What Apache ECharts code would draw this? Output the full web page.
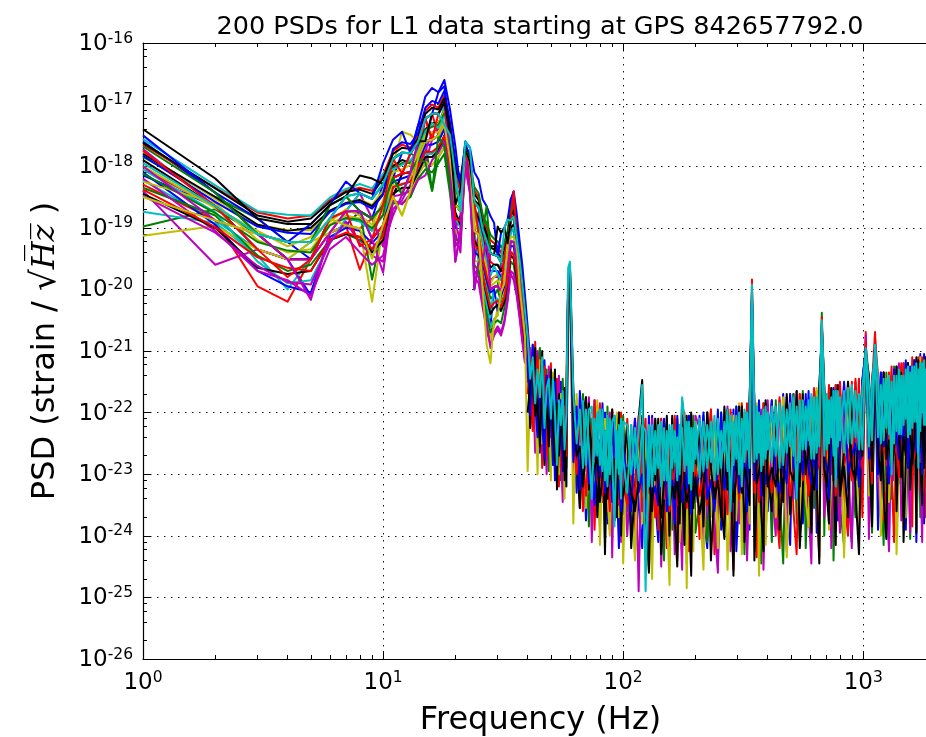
<!DOCTYPE html>
<html>
<head>
<meta charset="utf-8">
<title>200 PSDs for L1 data</title>
<script src="https://cdn.jsdelivr.net/npm/echarts@6.0.0/dist/echarts.min.js"></script>
<style>
html,body{margin:0;padding:0;background:#ffffff;}
#chart{width:926px;height:737px;}
</style>
</head>
<body>
<div id="chart"></div>
<script>
// ---------------- text ----------------
const titleText = '200 PSDs for L1 data starting at GPS 842657792.0';
const xAxisTitle = 'Frequency (Hz)';

// ---------------- axes (tick labels are 10^exponent) ----------------
const xMin = 1, xMax = 2048;
const xMajorExponents = [0, 1, 2, 3];
const yExponents = [-26, -25, -24, -23, -22, -21, -20, -19, -18, -17, -16];
const xMinorSubs = [2, 3, 4, 5, 6, 7, 8, 9];
const yMinorSubs = [2, 4, 6, 8];

// ---------------- frequencies (Hz) ----------------
const lowFreqs = [1,2,3,4,5,6,7,8,9,10,11,12,13,14,15,16,17,18,19,20,21,22,23,24,25,26,27,28,29,30,31,32,33,34,35,36,37,38,39];
const highFreqs = [40,41,42,43,44,45,46,47,48,49,50,51,52,53,54,55,56,57,58,59,60,
 62,64,66,68,70,72,74,76,78,80,82,84,86,88,90,92,94,96,98,100,
 104,108,112,116,120,124,128,132,136,140,144,148,152,156,160,164,168,172,176,180,184,188,192,196,200,
 208,216,224,232,240,248,256,264,272,280,288,296,304,312,320,328,336,344,352,360,368,376,384,392,400,
 416,432,448,464,480,496,512,528,544,560,576,592,608,624,640,656,672,688,704,720,736,752,768,784,800,
 832,864,896,928,960,992,1024,1056,1088,1120,1152,1184,1216,1248,1280,1312,1344,1376,1408,1440,1472,1504,1536,1568,1600,1632,1664,1696,1728,1760,1792,1824,1856];
const cyan2Freqs = highFreqs.slice(24); // 68 Hz upward

// ---------------- PSD values, log10(strain/sqrt(Hz)) ----------------
// PSDs drawn over 1-39 Hz only
const lowBlue2 = [-17.60,-18.43,-19.10,-19.23,-19.51,-18.85,-18.49,-18.73,-18.85,-18.29,
 -18.19,-17.78,-17.79,-17.33,-17.23,-17.15,-17.15,-16.96,-17.49,-18.15,
 -18.73,-17.73,-17.93,-19.05,-19.11,-20.01,-20.34,-20.60,-19.96,-19.94,
 -20.04,-19.90,-19.25,-18.88,-18.82,-19.53,-19.85,-20.25,-20.65];
const lowGreen2 = [-17.85,-18.50,-18.85,-19.23,-19.23,-18.63,-18.49,-18.44,-18.53,-18.29,
 -17.88,-17.78,-17.79,-17.87,-17.59,-17.57,-17.50,-17.33,-17.49,-18.15,
 -18.39,-17.73,-17.93,-18.58,-18.67,-19.03,-19.78,-20.00,-19.96,-19.94,
 -19.56,-19.45,-19.25,-18.54,-18.82,-19.15,-19.60,-20.00,-20.45];
const lowRed2 = [-18.05,-18.65,-19.35,-19.51,-19.51,-19.08,-18.96,-19.01,-18.85,-18.63,
 -18.19,-18.12,-18.10,-17.87,-17.23,-17.15,-17.50,-17.33,-17.89,-18.62,
 -18.73,-17.73,-18.15,-19.05,-19.11,-19.52,-19.78,-19.41,-19.44,-19.46,
 -19.56,-19.45,-19.64,-19.22,-19.23,-19.53,-19.95,-20.35,-20.80];
const lowCyan2 = [-18.23,-18.88,-19.35,-19.51,-19.23,-18.85,-18.73,-18.73,-18.85,-18.63,
 -18.19,-18.12,-18.10,-17.60,-17.23,-17.57,-17.50,-17.33,-17.89,-18.62,
 -18.73,-17.73,-17.93,-19.05,-19.56,-20.01,-20.34,-20.60,-20.48,-20.42,
 -20.04,-19.90,-19.64,-18.88,-18.82,-19.53,-19.90,-20.65,-21.00];
const lowMagenta2 = [-17.72,-18.65,-19.10,-19.51,-19.51,-18.85,-18.73,-18.44,-18.85,-19.30,
 -18.49,-18.12,-18.10,-17.87,-17.59,-17.15,-17.15,-16.96,-17.49,-19.08,
 -19.40,-17.73,-18.15,-19.53,-19.11,-19.52,-19.78,-19.41,-19.44,-19.46,
 -19.56,-19.45,-19.25,-18.88,-18.82,-19.53,-20.00,-20.40,-20.75];
const lowYellow2 = [-17.78,-18.53,-18.95,-19.04,-19.04,-18.73,-18.59,-18.54,-18.63,-18.39,
 -17.98,-17.44,-17.49,-17.60,-17.23,-17.15,-17.15,-16.96,-17.89,-18.15,
 -18.39,-17.73,-18.15,-19.05,-19.11,-19.52,-19.21,-19.41,-19.44,-19.46,
 -19.56,-19.45,-19.25,-18.88,-18.82,-19.15,-19.50,-19.90,-20.35];
const lowBlack2 = [-17.90,-18.65,-19.10,-19.51,-19.51,-18.85,-18.73,-18.73,-19.18,-18.96,
 -18.49,-18.12,-18.10,-17.87,-17.59,-17.57,-17.50,-17.33,-17.89,-18.62,
 -18.73,-17.73,-17.93,-18.45,-18.55,-18.90,-19.05,-19.30,-19.30,-19.35,
 -19.40,-19.30,-19.10,-18.88,-18.82,-19.15,-19.55,-20.30,-20.70];
const lowBlue3 = [-18.15,-18.65,-19.35,-19.51,-20.10,-19.08,-18.96,-18.73,-18.85,-18.63,
 -18.19,-18.12,-17.79,-17.60,-17.23,-17.15,-16.80,-16.70,-17.49,-18.62,
 -18.73,-17.73,-17.93,-20.00,-19.56,-19.52,-19.21,-19.41,-19.44,-19.46,
 -19.56,-19.45,-19.25,-18.88,-18.82,-19.53,-20.25,-20.65,-21.00];
const lowGreen3 = [-18.98,-18.70,-19.10,-19.23,-19.23,-18.85,-18.73,-18.73,-19.84,-18.96,
 -18.19,-18.46,-18.40,-18.13,-17.59,-18.40,-17.85,-17.69,-18.30,-18.62,
 -18.73,-17.73,-17.93,-19.05,-19.11,-19.52,-19.90,-20.15,-20.10,-20.00,
 -20.20,-20.00,-19.70,-19.22,-19.23,-19.53,-19.95,-20.40,-20.80];
const lowRed3 = [-18.30,-18.88,-19.95,-20.20,-19.51,-19.08,-18.96,-19.68,-19.18,-18.96,
 -18.19,-18.12,-18.10,-17.60,-17.23,-17.57,-17.50,-17.33,-17.89,-18.62,
 -18.73,-17.73,-17.93,-18.70,-18.80,-19.15,-19.35,-19.55,-19.60,-19.60,
 -19.70,-19.55,-19.35,-18.88,-18.41,-19.15,-19.60,-20.05,-20.50];
const lowCyan3 = [-18.74,-18.92,-19.45,-20.00,-19.50,-18.85,-18.73,-18.44,-18.53,-18.29,
 -17.88,-17.78,-17.79,-17.60,-17.59,-17.57,-17.50,-16.96,-17.49,-18.15,
 -18.39,-17.60,-17.93,-18.58,-19.11,-19.85,-20.20,-20.45,-19.96,-19.94,
 -20.04,-19.90,-19.64,-19.22,-19.23,-19.92,-20.30,-20.70,-21.10];
const lowMagenta3 = [-18.40,-19.60,-19.35,-19.51,-19.51,-19.08,-18.73,-18.73,-18.85,-19.30,
 -18.80,-18.46,-18.40,-18.13,-17.94,-17.57,-17.50,-17.33,-18.30,-19.55,
 -19.06,-17.73,-18.15,-19.05,-19.11,-19.40,-19.65,-19.85,-19.80,-19.80,
 -19.65,-19.55,-19.35,-19.00,-18.95,-19.53,-19.85,-20.20,-20.60];
const lowYellow3 = [-19.13,-18.97,-19.35,-19.51,-19.23,-19.08,-18.96,-19.01,-20.20,-18.96,
 -18.49,-18.80,-18.40,-18.13,-17.94,-17.98,-17.85,-17.69,-18.30,-19.08,
 -19.06,-17.85,-18.15,-19.53,-19.56,-20.10,-20.50,-20.80,-20.60,-20.30,
 -20.15,-20.00,-19.80,-19.40,-19.40,-19.53,-20.00,-20.70,-21.10];
const lowBlack3 = [-17.80,-18.50,-18.95,-19.05,-19.00,-18.72,-18.60,-18.55,-18.65,-18.45,
 -18.00,-17.90,-17.95,-17.70,-17.40,-17.30,-17.30,-17.10,-17.65,-18.35,
 -18.50,-17.80,-18.00,-18.70,-18.85,-19.20,-19.40,-19.65,-19.60,-19.60,
 -19.70,-19.60,-19.40,-19.00,-18.95,-19.30,-19.65,-20.05,-20.50];
const lowBlue4 = [-18.10,-18.95,-19.70,-19.95,-20.05,-19.15,-19.00,-19.05,-19.25,-19.05,
 -18.25,-18.20,-18.15,-17.95,-17.65,-17.65,-17.60,-17.40,-17.95,-19.00,
 -18.80,-17.90,-18.25,-19.40,-19.45,-19.60,-19.85,-20.05,-20.00,-20.35,
 -20.10,-19.95,-19.70,-19.30,-19.30,-19.60,-19.95,-20.35,-20.75];
const lowGreen4 = [-18.35,-18.80,-19.45,-19.70,-19.60,-19.20,-19.10,-19.20,-19.35,-19.10,
 -18.60,-18.60,-18.50,-18.20,-18.05,-18.10,-17.95,-17.80,-18.45,-19.20,
 -19.20,-18.00,-18.40,-19.60,-19.70,-20.10,-20.40,-20.70,-20.55,-20.50,
 -20.55,-20.30,-20.00,-19.55,-19.60,-19.90,-20.25,-20.70,-21.05];
const lowRed4 = [-17.65,-18.35,-18.75,-18.85,-18.80,-18.55,-18.40,-18.35,-18.40,-18.15,
 -17.75,-17.65,-17.70,-17.50,-17.10,-17.00,-17.05,-16.85,-17.35,-17.95,
 -18.30,-17.68,-17.85,-18.40,-18.50,-18.85,-19.00,-19.20,-19.25,-19.30,
 -19.40,-19.30,-19.10,-18.75,-18.65,-19.00,-19.40,-19.80,-20.25];
const lowCyan4 = [-18.05,-18.75,-19.55,-19.90,-19.85,-19.25,-18.85,-18.90,-19.05,-18.80,
 -18.35,-18.30,-18.25,-18.05,-17.80,-17.80,-17.70,-17.55,-18.10,-18.85,
 -19.00,-17.95,-18.30,-19.25,-19.30,-19.75,-20.00,-20.25,-20.20,-20.15,
 -20.30,-20.15,-19.85,-19.40,-19.45,-19.75,-20.10,-20.50,-20.90];
const lowMagenta4 = [-18.20,-19.05,-19.70,-19.85,-20.10,-19.35,-19.15,-19.40,-19.60,-19.45,
 -18.70,-18.55,-18.30,-18.00,-17.75,-17.45,-17.40,-17.20,-17.80,-18.90,
 -19.25,-17.80,-18.20,-19.80,-19.90,-20.30,-20.65,-20.90,-20.75,-20.65,
 -20.75,-20.55,-20.20,-19.75,-19.85,-20.10,-20.45,-20.85,-21.20];
const lowYellow4 = [-18.25,-18.60,-19.20,-19.40,-19.35,-18.95,-18.80,-18.85,-19.00,-18.70,
 -18.30,-18.40,-18.20,-17.80,-17.45,-17.35,-17.30,-17.10,-17.70,-18.45,
 -18.60,-17.78,-18.05,-18.85,-19.00,-19.35,-19.60,-19.90,-19.80,-19.75,
 -19.85,-19.70,-19.45,-19.05,-19.05,-19.35,-19.75,-20.15,-20.60];
const lowBlack4 = [-18.45,-19.00,-19.65,-19.75,-19.70,-19.20,-19.10,-19.15,-19.40,-19.20,
 -18.45,-18.35,-18.35,-18.10,-17.85,-17.85,-17.75,-17.50,-18.10,-18.75,
 -18.95,-17.90,-18.35,-19.20,-19.35,-19.80,-20.10,-20.40,-20.30,-20.25,
 -20.35,-20.20,-19.90,-19.45,-19.50,-19.80,-20.15,-20.55,-20.95];
const lowBlue5 = [-17.83,-18.58,-18.98,-19.08,-19.10,-18.74,-18.61,-18.58,-18.69,-18.46,
 -17.72,-17.61,-17.64,-17.46,-17.05,-16.94,-16.98,-16.78,-17.28,-17.91,
 -18.22,-17.66,-17.81,-18.81,-18.89,-19.28,-19.49,-19.71,-19.70,-19.70,
 -19.80,-19.68,-19.44,-19.05,-19.03,-19.34,-19.73,-20.13,-20.55];
const lowGreen5 = [-18.12,-18.76,-19.23,-19.37,-19.40,-18.96,-18.84,-18.87,-19.01,-18.79,
 -18.03,-17.95,-17.94,-17.73,-17.41,-17.36,-17.33,-17.14,-17.69,-18.38,
 -18.56,-17.79,-18.04,-18.34,-18.44,-18.79,-18.93,-19.11,-19.18,-19.22,
 -19.32,-19.23,-19.06,-18.71,-18.61,-18.95,-19.38,-19.78,-20.25];
const lowRed5 = [-18.38,-18.99,-19.48,-19.65,-19.70,-19.19,-19.08,-19.15,-19.34,-19.13,
 -18.34,-18.29,-18.25,-18.00,-17.76,-17.77,-17.68,-17.51,-18.09,-18.85,
 -18.89,-17.91,-18.26,-19.29,-19.33,-19.77,-20.06,-20.30,-20.22,-20.18,
 -20.28,-20.13,-19.83,-19.39,-19.44,-19.72,-20.08,-20.48,-20.85];
const lowCyan5 = [-17.56,-18.31,-18.73,-18.79,-18.80,-18.51,-18.37,-18.29,-18.36,-18.12,
 -18.05,-17.98,-17.90,-17.75,-17.45,-17.30,-17.38,-17.20,-17.60,-18.30,
 -18.60,-17.76,-18.08,-18.78,-18.95,-19.22,-19.55,-19.78,-19.62,-19.75,
 -19.85,-19.62,-19.48,-19.10,-19.00,-19.40,-19.70,-20.18,-20.60];
const lowMagenta5 = [-18.48,-19.08,-19.62,-19.88,-19.92,-19.25,-18.90,-19.25,-19.45,-19.55,
 -18.55,-18.62,-18.45,-18.22,-18.15,-17.90,-17.78,-17.60,-18.20,-19.30,
 -19.15,-18.00,-18.45,-19.70,-19.80,-20.20,-20.55,-20.95,-20.70,-20.60,
 -20.70,-20.50,-20.15,-19.70,-19.75,-20.05,-20.40,-20.80,-21.15];
const lowYellow5 = [-18.00,-18.68,-19.05,-19.30,-19.15,-18.90,-18.70,-18.80,-18.95,-18.55,
 -18.10,-18.05,-17.98,-17.78,-17.50,-17.45,-17.45,-17.25,-17.80,-18.50,
 -18.65,-17.82,-18.10,-18.95,-19.05,-19.40,-19.65,-19.95,-19.90,-19.85,
 -19.95,-19.80,-19.55,-19.15,-19.15,-19.45,-19.85,-20.25,-20.65];
const lowBlack5 = [-17.62,-18.36,-18.80,-18.90,-18.85,-18.58,-18.42,-18.38,-18.45,-18.20,
 -17.80,-17.70,-17.72,-17.55,-17.15,-17.05,-17.08,-16.90,-17.40,-18.05,
 -18.30,-17.70,-17.88,-18.55,-18.62,-18.95,-19.12,-19.32,-19.35,-19.40,
 -19.48,-19.38,-19.18,-18.80,-18.72,-19.08,-19.48,-19.88,-20.35];

// PSDs drawn over the whole band: 1-39 Hz part and 40-1856 Hz part
const fullBlueLow = [-17.50,-18.43,-18.85,-19.23,-18.94,-18.63,-18.25,-18.44,-18.53,-17.95,
 -17.57,-17.44,-17.79,-17.33,-16.87,-16.73,-16.80,-16.60,-17.08,-17.68,
 -18.39,-17.60,-17.70,-18.10,-18.22,-18.54,-18.65,-18.81,-18.92,-19.46,
 -19.08,-19.00,-18.87,-18.54,-18.41,-18.76,-19.20,-19.60,-20.10];
const fullBlueHigh = [-20.60,-21.15,-22.10,-21.05,-21.70,-22.65,-21.30,-21.15,-22.10,-22.65,
 -21.40,-21.85,-23.10,-21.75,-22.50,-21.50,-22.85,-22.00,-22.40,-19.90,
 -19.60,-22.10,-23.30,-21.65,-22.40,-23.75,-22.05,-23.00,-21.80,-23.60,
 -22.45,-23.25,-22.00,-23.80,-22.70,-23.45,-22.15,-23.10,-24.20,-22.40,
 -23.65,-22.40,-23.90,-22.10,-23.50,-24.20,-22.30,-23.70,-22.05,-23.40,
 -24.10,-22.20,-23.80,-22.60,-24.40,-22.10,-23.60,-22.50,-24.00,-22.05,
 -23.25,-23.85,-22.15,-24.15,-22.55,-23.45,-22.05,-23.65,-24.20,-22.10,
 -23.30,-21.95,-23.90,-23.05,-22.15,-23.75,-21.95,-24.25,-23.30,-22.00,
 -23.60,-22.40,-23.90,-20.00,-21.90,-23.35,-23.95,-22.05,-23.05,-21.85,
 -23.60,-21.90,-23.80,-23.10,-21.70,-23.45,-24.15,-21.70,-23.20,-22.00,
 -23.80,-22.90,-21.65,-23.45,-21.75,-23.95,-23.05,-20.55,-21.60,-23.20,
 -23.50,-21.80,-22.90,-21.55,-23.75,-23.05,-21.55,-23.20,-24.10,-21.60,
 -22.90,-21.45,-21.00,-23.25,-21.45,-21.05,-23.90,-22.70,-21.35,-22.95,
 -24.20,-21.40,-22.50,-21.25,-23.15,-22.75,-21.20,-23.90,-22.50,-21.25,
 -22.95,-21.15,-24.10,-22.55,-21.05,-22.80,-23.80,-21.10,-22.60];

const fullGreenLow = [-17.68,-18.43,-19.10,-19.23,-19.23,-18.63,-18.49,-18.73,-18.85,-18.63,
 -18.19,-18.46,-18.10,-17.87,-17.94,-18.40,-17.50,-17.69,-18.30,-18.62,
 -18.73,-17.73,-17.93,-18.58,-18.67,-19.03,-18.65,-19.41,-19.44,-19.46,
 -19.56,-19.45,-19.25,-18.88,-18.82,-19.15,-19.55,-19.95,-20.40];
const fullGreenHigh = [-21.10,-21.85,-20.90,-22.45,-21.20,-20.95,-22.20,-21.75,-21.30,-22.95,
 -21.60,-22.25,-21.40,-22.65,-22.00,-23.10,-21.45,-22.30,-22.90,-20.10,
 -19.70,-22.60,-21.80,-23.15,-21.70,-22.55,-23.85,-22.10,-23.10,-21.90,
 -23.55,-22.35,-24.10,-21.90,-23.00,-22.25,-23.75,-22.10,-23.40,-22.80,
 -22.05,-23.60,-22.20,-24.30,-22.90,-22.10,-23.80,-22.40,-24.10,-22.10,
 -23.50,-22.70,-24.40,-22.20,-23.30,-23.90,-22.10,-24.20,-22.80,-23.55,
 -22.05,-24.45,-22.35,-23.35,-22.05,-23.95,-23.45,-22.05,-24.10,-23.20,
 -22.20,-24.50,-22.00,-23.55,-22.05,-24.15,-23.25,-21.90,-23.70,-22.10,
 -24.30,-23.00,-21.90,-20.10,-23.80,-21.95,-23.25,-24.45,-21.85,-23.55,
 -22.00,-24.10,-21.80,-23.30,-24.45,-21.85,-22.95,-21.70,-23.80,-23.30,
 -21.65,-24.20,-22.95,-21.75,-23.55,-21.65,-23.35,-20.38,-24.00,-21.70,
 -23.00,-21.60,-24.40,-22.75,-21.65,-23.55,-24.15,-21.50,-22.90,-23.70,
 -21.60,-23.20,-20.90,-21.45,-23.95,-21.00,-21.50,-23.00,-24.15,-21.35,
 -22.65,-23.40,-21.25,-24.00,-22.75,-21.25,-23.50,-22.40,-21.30,-24.05,
 -22.75,-21.15,-23.15,-21.25,-23.70,-22.50,-21.10,-23.50,-21.20];

const fullRedLow = [-17.75,-18.65,-19.35,-19.80,-19.51,-18.85,-18.73,-19.30,-19.18,-18.63,
 -17.88,-18.12,-17.79,-17.60,-17.23,-17.57,-17.15,-16.96,-17.89,-18.15,
 -18.39,-17.73,-18.15,-18.58,-19.11,-19.52,-19.78,-20.00,-19.96,-19.94,
 -20.04,-19.45,-19.25,-18.88,-18.41,-19.15,-19.60,-20.00,-20.45];
const fullRedHigh = [-20.70,-21.55,-22.20,-20.85,-22.00,-21.45,-22.90,-21.25,-21.70,-22.35,
 -21.20,-22.85,-21.80,-21.45,-23.20,-22.20,-21.75,-23.00,-21.50,-19.80,
 -19.65,-21.90,-22.90,-22.35,-23.60,-21.75,-22.75,-22.20,-23.90,-22.60,
 -21.85,-23.45,-22.20,-22.90,-23.90,-21.95,-23.25,-22.50,-22.00,-23.80,
 -23.15,-22.10,-23.40,-24.00,-22.30,-23.10,-22.10,-24.50,-23.30,-22.20,
 -23.90,-22.10,-23.20,-24.20,-22.30,-23.70,-22.05,-24.40,-23.10,-21.80,
 -22.15,-23.75,-24.25,-22.05,-23.55,-22.25,-24.05,-22.15,-23.10,-21.95,
 -24.30,-23.50,-22.20,-23.85,-21.95,-23.35,-24.55,-22.05,-22.90,-21.85,
 -24.00,-23.60,-22.00,-19.84,-23.20,-24.35,-21.85,-23.65,-21.95,-24.05,
 -22.80,-21.80,-23.40,-24.20,-21.85,-22.85,-21.70,-23.60,-24.30,-21.70,
 -23.00,-21.90,-23.85,-23.15,-21.65,-23.45,-24.35,-20.45,-21.70,-22.80,
 -21.55,-23.90,-23.30,-21.55,-22.95,-21.65,-23.35,-24.00,-21.50,-22.80,
 -21.45,-23.70,-20.69,-22.95,-21.55,-20.69,-22.60,-21.35,-23.75,-23.25,
 -21.35,-22.90,-24.10,-21.40,-22.35,-21.20,-23.70,-23.00,-21.20,-22.55,
 -23.85,-21.25,-22.35,-21.10,-23.30,-22.80,-21.10,-23.70,-21.10];

const fullMagentaLow = [-18.00,-18.88,-19.10,-19.51,-20.17,-19.08,-18.73,-18.73,-19.18,-19.73,
 -18.49,-18.46,-18.10,-17.60,-17.23,-17.15,-17.15,-16.96,-17.89,-19.55,
 -19.06,-17.85,-18.15,-20.00,-19.56,-19.52,-19.21,-20.00,-19.96,-19.94,
 -20.04,-19.90,-19.64,-19.22,-19.23,-19.53,-19.90,-20.30,-20.70];
const fullMagentaHigh = [-21.50,-20.95,-21.40,-22.65,-21.00,-22.25,-21.40,-22.05,-23.00,-21.25,
 -22.60,-21.55,-22.20,-22.05,-21.40,-22.60,-23.45,-21.70,-22.10,-20.30,
 -19.80,-23.10,-22.00,-23.55,-21.90,-22.95,-21.75,-24.10,-22.40,-22.90,
 -23.85,-22.05,-22.70,-23.60,-22.00,-24.35,-22.55,-22.90,-22.10,-24.10,
 -22.35,-24.00,-22.80,-22.10,-24.90,-22.20,-23.40,-24.10,-22.10,-23.70,
 -22.30,-24.50,-23.20,-22.10,-23.90,-22.60,-24.30,-22.10,-23.50,-24.55,
 -22.15,-23.25,-22.05,-23.95,-23.55,-22.05,-22.25,-24.15,-23.40,-22.00,
 -23.80,-24.60,-22.10,-23.15,-21.90,-24.25,-23.55,-21.95,-23.80,-22.90,
 -22.00,-24.40,-23.20,-20.20,-21.90,-23.85,-22.95,-21.95,-24.55,-23.35,
 -21.80,-23.20,-24.00,-21.80,-22.75,-24.25,-21.85,-23.40,-21.65,-24.00,
 -22.90,-21.80,-23.55,-24.45,-21.65,-22.95,-21.75,-20.70,-23.70,-23.10,
 -21.60,-24.20,-22.70,-21.65,-23.35,-23.95,-21.65,-22.70,-24.20,-21.50,
 -23.40,-22.90,-20.75,-24.05,-21.55,-21.10,-23.10,-23.70,-21.35,-22.45,
 -24.25,-21.40,-23.10,-22.60,-21.20,-23.75,-23.20,-21.20,-22.70,-23.95,
 -21.25,-22.35,-23.45,-21.15,-22.90,-24.10,-21.20,-22.50,-23.20];

const fullYellowLow = [-18.50,-18.88,-19.10,-19.23,-19.23,-18.85,-18.96,-19.01,-19.50,-18.96,
 -18.49,-18.80,-18.40,-17.87,-17.59,-17.57,-17.50,-17.33,-17.89,-18.62,
 -18.73,-17.73,-17.93,-19.05,-19.11,-20.01,-20.90,-21.20,-20.48,-20.42,
 -20.04,-19.90,-19.25,-18.88,-18.82,-19.15,-19.95,-20.35,-20.75];
const fullYellowHigh = [-22.95,-21.65,-21.30,-21.65,-23.00,-21.15,-22.50,-21.65,-22.30,-21.55,
 -23.10,-21.35,-22.60,-22.15,-23.00,-21.70,-22.15,-23.40,-21.70,-20.00,
 -19.90,-23.80,-21.70,-22.75,-22.20,-23.55,-22.05,-22.60,-23.30,-21.80,
 -24.15,-22.75,-22.10,-23.30,-24.00,-22.45,-22.95,-22.00,-23.70,-22.30,
 -24.45,-22.20,-23.10,-24.40,-22.10,-23.80,-22.40,-23.30,-24.70,-22.20,
 -23.00,-24.00,-22.10,-23.60,-24.80,-22.30,-23.20,-22.10,-24.10,-23.35,
 -22.25,-24.85,-22.05,-23.65,-24.25,-22.15,-23.35,-24.55,-22.00,-23.70,
 -22.30,-24.20,-23.10,-21.95,-24.55,-23.35,-22.05,-23.75,-21.85,-24.30,
 -23.10,-22.10,-23.80,-20.30,-23.50,-21.85,-24.65,-22.85,-21.95,-24.15,
 -23.20,-22.00,-23.70,-22.90,-21.75,-24.35,-23.25,-21.80,-22.70,-24.10,
 -21.70,-23.40,-23.85,-21.75,-23.05,-21.60,-24.35,-20.80,-22.80,-21.70,
 -23.90,-23.20,-21.60,-23.55,-22.65,-21.75,-24.35,-21.50,-23.10,-22.50,
 -23.90,-21.60,-21.10,-23.35,-22.75,-21.20,-21.40,-24.00,-22.85,-21.45,
 -23.45,-22.50,-21.30,-24.30,-22.95,-21.35,-22.50,-23.70,-21.20,-23.05,
 -22.25,-21.25,-23.85,-22.55,-21.10,-23.30,-22.70,-21.20,-24.20];

const fullBlackLow = [-17.40,-18.20,-18.85,-18.94,-18.94,-18.63,-18.49,-18.15,-18.20,-18.29,
 -17.88,-17.78,-17.79,-17.60,-17.59,-17.15,-17.15,-16.96,-17.49,-18.62,
 -18.39,-17.73,-17.93,-18.58,-18.67,-19.03,-19.21,-19.41,-19.44,-18.98,
 -19.08,-19.00,-19.25,-18.88,-18.82,-19.15,-19.45,-19.85,-20.30];
const fullBlackHigh = [-20.90,-22.25,-21.70,-20.95,-22.30,-21.65,-21.00,-22.85,-21.40,-22.05,
 -21.80,-22.55,-21.30,-23.25,-21.70,-22.40,-21.95,-21.60,-23.20,-19.95,
 -19.60,-21.60,-22.70,-23.55,-22.10,-21.75,-23.25,-22.50,-22.00,-23.70,
 -22.85,-21.95,-24.30,-22.30,-23.10,-21.95,-23.75,-22.60,-22.20,-24.00,
 -22.95,-22.20,-24.20,-23.20,-22.10,-21.47,-23.60,-24.60,-22.20,-23.10,
 -22.10,-24.30,-23.40,-22.20,-24.00,-22.05,-23.70,-24.50,-22.20,-23.15,
 -24.15,-22.05,-23.45,-24.65,-22.25,-23.05,-22.15,-23.85,-22.00,-24.40,
 -23.20,-22.10,-23.50,-24.05,-21.95,-22.85,-24.65,-22.15,-23.30,-21.90,
 -24.10,-23.00,-21.90,-20.05,-24.40,-23.25,-21.95,-23.65,-24.25,-21.85,
 -23.00,-23.60,-21.90,-23.90,-23.05,-21.75,-23.65,-22.90,-21.65,-24.20,
 -23.30,-21.80,-22.65,-23.95,-21.65,-23.15,-24.45,-20.60,-21.60,-23.30,
 -23.80,-21.70,-22.90,-24.15,-21.55,-23.35,-22.85,-23.70,-21.60,-23.30,
 -24.30,-21.50,-21.00,-22.55,-23.85,-21.05,-22.90,-21.40,-23.35,-24.05,
 -21.45,-22.70,-21.30,-23.60,-22.45,-21.35,-24.10,-22.80,-21.20,-23.25,
 -22.55,-21.25,-23.95,-21.15,-22.80,-23.50,-21.20,-22.40,-23.80];

// further PSDs, 40-1856 Hz only
const highRed2 = [-21.70,-21.15,-22.30,-21.65,-21.10,-22.25,-21.90,-21.55,-22.70,-21.85,
 -22.40,-21.55,-22.70,-22.25,-22.00,-22.90,-22.45,-21.90,-22.70,-19.85,
 -19.70,-22.40,-23.00,-22.15,-22.80,-23.35,-22.45,-23.00,-21.80,-23.10,
 -22.75,-23.35,-22.70,-23.00,-23.60,-22.55,-23.15,-22.90,-23.50,-22.00,
 -23.15,-23.50,-23.00,-23.40,-22.05,-23.60,-23.10,-23.30,-22.90,-23.70,
 -23.20,-22.10,-23.40,-23.00,-23.60,-23.20,-22.90,-23.50,-23.10,-23.25,
 -22.00,-23.55,-22.95,-23.35,-23.15,-22.85,-23.35,-23.05,-23.50,-21.95,
 -23.20,-22.90,-23.40,-23.05,-23.65,-21.95,-23.15,-22.95,-23.40,-22.80,
 -23.20,-21.85,-23.00,-20.10,-23.30,-22.75,-23.45,-22.95,-21.85,-23.15,
 -22.80,-23.30,-22.90,-21.75,-23.05,-22.65,-23.35,-22.90,-22.70,-21.70,
 -23.10,-22.80,-23.35,-22.55,-21.60,-22.95,-22.85,-20.65,-23.10,-22.60,
 -21.60,-23.00,-22.70,-23.35,-22.45,-21.50,-22.85,-22.60,-23.10,-21.45,
 -22.70,-22.90,-20.85,-22.45,-23.15,-20.80,-21.40,-22.70,-22.45,-22.85,
 -22.25,-21.25,-22.70,-22.50,-23.05,-22.25,-21.20,-22.70,-22.30,-22.45,
 -21.10,-22.75,-22.35,-22.15,-22.80,-21.10,-22.50,-22.20,-22.60];
const highBlue2 = [-21.10,-22.05,-20.90,-21.85,-22.40,-21.55,-22.20,-22.75,-21.40,-22.25,
 -22.00,-22.85,-21.50,-22.55,-22.40,-21.80,-22.95,-22.60,-22.20,-19.95,
 -19.75,-22.80,-21.90,-23.25,-22.60,-22.15,-23.15,-22.80,-23.50,-22.30,
 -23.05,-21.85,-23.30,-22.90,-22.60,-23.45,-22.05,-23.30,-23.10,-23.60,
 -22.55,-23.10,-23.60,-22.10,-23.30,-23.00,-23.70,-22.05,-23.40,-23.20,
 -23.50,-23.00,-22.10,-23.60,-23.30,-23.10,-23.80,-22.05,-23.20,-23.45,
 -22.95,-23.25,-22.05,-23.65,-23.05,-23.35,-22.95,-22.00,-23.40,-23.10,
 -23.60,-22.90,-22.00,-23.25,-22.95,-23.45,-23.15,-21.90,-23.30,-23.00,
 -22.80,-23.60,-21.90,-20.15,-23.10,-22.85,-21.80,-23.35,-22.95,-23.15,
 -22.70,-21.80,-23.00,-23.30,-22.75,-23.15,-21.70,-22.80,-23.40,-22.60,
 -23.00,-21.70,-22.85,-23.15,-22.65,-23.25,-21.60,-20.75,-22.70,-22.90,
 -23.40,-22.50,-21.60,-22.75,-23.05,-22.65,-21.50,-23.00,-22.70,-22.50,
 -23.20,-21.50,-20.95,-22.75,-22.55,-20.90,-23.00,-21.35,-22.55,-22.35,
 -23.15,-22.60,-21.30,-22.40,-22.75,-22.15,-22.60,-21.15,-22.90,-22.35,
 -22.15,-21.15,-22.65,-22.45,-22.20,-23.00,-21.05,-22.30,-22.70];
const highBlack2 = [-22.00,-21.55,-21.10,-22.05,-21.80,-22.55,-21.40,-22.15,-21.90,-22.55,
 -21.30,-22.25,-22.80,-21.85,-22.70,-22.30,-22.05,-23.10,-21.80,-20.05,
 -19.80,-22.00,-22.70,-22.55,-23.20,-22.55,-21.85,-23.20,-22.90,-22.70,
 -23.45,-23.05,-22.30,-23.40,-22.80,-23.15,-22.75,-23.70,-22.00,-23.10,
 -23.35,-22.90,-23.30,-23.60,-23.10,-22.05,-23.40,-23.00,-23.60,-22.10,
 -23.30,-23.70,-23.10,-22.05,-23.50,-23.20,-23.40,-23.00,-23.80,-22.05,
 -23.15,-23.45,-23.25,-22.00,-23.55,-23.05,-23.65,-23.25,-22.00,-22.90,
 -23.40,-23.10,-23.70,-21.90,-23.25,-22.85,-23.45,-23.05,-21.90,-23.30,
 -22.90,-23.10,-23.50,-20.20,-21.90,-23.15,-22.95,-22.75,-23.35,-21.80,
 -23.20,-22.90,-23.20,-22.70,-23.45,-21.70,-22.95,-23.10,-22.80,-23.20,
 -21.70,-23.00,-22.55,-22.85,-23.25,-22.65,-21.60,-20.70,-22.90,-23.20,
 -22.70,-21.60,-23.10,-22.45,-22.75,-23.25,-22.65,-21.50,-22.90,-23.10,
 -22.40,-22.70,-21.05,-21.40,-22.95,-21.00,-22.60,-23.10,-21.35,-22.75,
 -22.45,-22.90,-22.60,-21.25,-22.25,-23.05,-22.40,-22.70,-21.20,-22.25,
 -22.85,-22.45,-21.10,-22.75,-22.50,-22.10,-22.90,-21.10,-22.40];
// second cyan PSD, 68-1856 Hz
const highCyan2 = [-21.80,-22.85,-21.95,-21.90,-22.70,-22.00,
 -22.85,-21.95,-23.10,-22.05,-23.00,-22.15,-22.05,-22.90,-22.20,-23.40,
 -22.15,-22.20,-23.00,-22.25,-23.10,-22.20,-22.30,-23.20,-22.20,-23.00,
 -22.20,-23.20,-22.25,-23.10,-22.20,-22.90,-22.30,-23.10,-22.20,-22.25,
 -22.95,-22.15,-23.15,-22.25,-22.95,-22.15,-23.05,-22.15,-22.90,-22.15,
 -23.10,-22.10,-22.90,-22.15,-22.95,-22.05,-22.85,-22.05,-23.00,-22.10,
 -22.80,-22.00,-22.90,-20.05,-22.00,-22.75,-22.00,-22.95,-21.95,-22.75,
 -22.00,-22.80,-21.90,-22.90,-21.90,-22.65,-21.85,-22.70,-21.90,-22.80,
 -21.80,-22.60,-21.80,-22.75,-21.75,-22.65,-21.85,-20.60,-22.70,-21.70,
 -22.50,-21.75,-22.70,-21.65,-22.55,-21.75,-22.65,-21.60,-22.50,-21.65,
 -22.60,-21.60,-21.00,-22.55,-21.55,-21.00,-22.40,-21.55,-22.45,-21.45,
 -22.35,-21.50,-22.50,-21.40,-22.35,-21.40,-22.20,-21.30,-22.40,-21.35,
 -22.25,-21.25,-22.15,-21.30,-22.30,-21.20,-22.20,-21.30,-22.10];

const fullCyanLow = [-17.95,-18.65,-19.10,-19.23,-19.23,-18.85,-18.49,-18.44,-18.53,-18.29,
 -17.88,-17.78,-17.79,-17.60,-17.23,-17.15,-17.15,-17.33,-17.49,-18.15,
 -18.73,-17.60,-17.70,-18.58,-18.67,-19.03,-19.21,-19.41,-19.44,-19.46,
 -19.56,-19.00,-18.87,-18.88,-18.82,-19.15,-19.50,-19.90,-20.35];
const fullCyanHigh = [-20.80,-21.45,-21.10,-21.85,-21.30,-21.75,-21.10,-22.25,-21.60,-21.45,
 -22.10,-21.45,-22.00,-22.85,-21.80,-22.20,-21.65,-22.60,-22.00,-19.65,
 -19.55,-21.70,-22.50,-21.95,-22.90,-21.95,-22.55,-23.40,-22.10,-22.70,
 -21.95,-22.95,-22.30,-23.20,-22.10,-22.75,-23.85,-22.30,-23.00,-22.10,
 -22.75,-23.30,-22.20,-22.90,-22.30,-21.55,-24.90,-22.20,-23.20,-22.30,
 -22.90,-22.15,-23.10,-22.30,-23.50,-22.20,-22.80,-22.40,-23.00,-21.75,
 -22.10,-22.85,-22.15,-23.25,-22.25,-22.75,-22.10,-22.95,-22.20,-22.80,
 -22.05,-23.00,-22.30,-22.65,-21.95,-23.60,-22.15,-22.75,-22.00,-23.20,
 -21.95,-22.60,-22.10,-19.92,-22.80,-21.90,-22.65,-22.05,-22.85,-21.90,
 -22.60,-21.90,-22.70,-21.85,-22.85,-21.95,-22.55,-21.75,-23.40,-21.80,
 -22.60,-21.90,-22.45,-21.70,-22.75,-21.75,-22.55,-20.50,-21.65,-22.60,
 -21.80,-22.40,-21.65,-23.20,-21.65,-22.45,-21.65,-22.50,-21.55,-22.40,
 -21.70,-22.60,-20.95,-21.55,-22.45,-20.90,-21.45,-22.50,-21.45,-22.25,
 -21.40,-23.00,-21.40,-22.30,-21.30,-22.35,-21.40,-22.10,-21.25,-22.35,
 -21.25,-22.15,-21.20,-22.90,-21.20,-22.00,-21.15,-22.20,-21.20];

// ---------------- colours (classic matplotlib cycle) ----------------
const lineColors = {blue:'#0000ff', green:'#008000', red:'#ff0000', cyan:'#00bfbf', magenta:'#bf00bf', yellow:'#bfbf00', black:'#000000'};

// drawing order: [colour, frequencies, values]
const drawList = [
  ['blue', lowFreqs, lowBlue2], ['green', lowFreqs, lowGreen2], ['red', lowFreqs, lowRed2], ['cyan', lowFreqs, lowCyan2],
  ['magenta', lowFreqs, lowMagenta2], ['yellow', lowFreqs, lowYellow2], ['black', lowFreqs, lowBlack2],
  ['blue', lowFreqs, lowBlue3], ['green', lowFreqs, lowGreen3], ['red', lowFreqs, lowRed3], ['cyan', lowFreqs, lowCyan3],
  ['magenta', lowFreqs, lowMagenta3], ['yellow', lowFreqs, lowYellow3], ['black', lowFreqs, lowBlack3],
  ['blue', lowFreqs, lowBlue4], ['green', lowFreqs, lowGreen4], ['red', lowFreqs, lowRed4], ['cyan', lowFreqs, lowCyan4],
  ['magenta', lowFreqs, lowMagenta4], ['yellow', lowFreqs, lowYellow4], ['black', lowFreqs, lowBlack4],
  ['blue', lowFreqs, lowBlue5], ['green', lowFreqs, lowGreen5], ['red', lowFreqs, lowRed5], ['cyan', lowFreqs, lowCyan5],
  ['magenta', lowFreqs, lowMagenta5], ['yellow', lowFreqs, lowYellow5], ['black', lowFreqs, lowBlack5]
];
const fullList = [
  ['blue', fullBlueLow, fullBlueHigh], ['green', fullGreenLow, fullGreenHigh],
  ['red', fullRedLow, fullRedHigh], ['magenta', fullMagentaLow, fullMagentaHigh],
  ['yellow', fullYellowLow, fullYellowHigh], ['black', fullBlackLow, fullBlackHigh]
];
const highList = [
  ['red', highFreqs, highRed2], ['blue', highFreqs, highBlue2], ['black', highFreqs, highBlack2],
  ['cyan', cyan2Freqs, highCyan2]
];

// ---------------- build ----------------
function toPairs(freqs, vals) {
  const out = [];
  const n = Math.min(freqs.length, vals.length);
  for (let i = 0; i < n; i++) out.push([freqs[i], vals[i]]);
  return out;
}
function makeLine(colorName, data) {
  return {
    type: 'line', xAxisIndex: 0, yAxisIndex: 0, data: data,
    symbol: 'none', showSymbol: false, silent: true, animation: false,
    lineStyle: {color: lineColors[colorName], width: 2, join: 'round'},
    itemStyle: {color: lineColors[colorName]},
    emphasis: {disabled: true}
  };
}
const series = [];
drawList.forEach(function (s) { series.push(makeLine(s[0], toPairs(s[1], s[2]))); });
fullList.forEach(function (s) {
  series.push(makeLine(s[0], toPairs(lowFreqs, s[1]).concat(toPairs(highFreqs, s[2]))));
});
highList.forEach(function (s) { series.push(makeLine(s[0], toPairs(s[1], s[2]))); });
series.push(makeLine('cyan', toPairs(lowFreqs, fullCyanLow).concat(toPairs(highFreqs, fullCyanHigh))));

const logXMax = Math.log10(xMax);
const xMinorTicks = [];
xMajorExponents.forEach(function (e) {
  xMinorSubs.forEach(function (k) { const v = e + Math.log10(k); if (v < logXMax) xMinorTicks.push(v); });
});
const yMinorTicks = [];
for (let i = 0; i < yExponents.length - 1; i++) {
  yMinorSubs.forEach(function (k) { yMinorTicks.push(yExponents[i] + Math.log10(k)); });
}

const FONT = 'DejaVu Sans';
const powRich = {
  b: {fontFamily: FONT, fontSize: 23, color: '#000', lineHeight: 25, verticalAlign: 'bottom'},
  s: {fontFamily: FONT, fontSize: 15.5, color: '#000', lineHeight: 16, padding: [0, 0, 14, 0], verticalAlign: 'top'}
};
function powLabel(e) { return '{b|10}{s|' + e + '}'; }

const axisLineStyle = {color: '#000', width: 1.2};
const gridLineStyle = {color: '#000', width: 0.9, type: [1.5, 5.5]};

const option = {
  animation: false,
  backgroundColor: '#ffffff',
  title: {
    text: titleText, left: 540, top: 14, padding: 0, textAlign: 'center',
    textStyle: {fontFamily: FONT, fontSize: 25.5, fontWeight: 'normal', color: '#000'}
  },
  grid: {left: 143, top: 43, right: -12, bottom: 78, containLabel: false, outerBoundsMode: 'none'},
  xAxis: [
    {
      type: 'log', logBase: 10, min: xMin, max: xMax, position: 'bottom',
      name: xAxisTitle, nameLocation: 'middle', nameGap: 40,
      nameTextStyle: {fontFamily: FONT, fontSize: 32, color: '#000'},
      axisLine: {show: true, onZero: false, lineStyle: axisLineStyle},
      axisTick: {show: true, inside: true, length: 8, lineStyle: {color: '#000', width: 1}},
      axisLabel: {
        show: true, margin: 11, showMaxLabel: false, color: '#000',
        formatter: function (v) {
          const e = Math.log10(v);
          return Math.abs(e - Math.round(e)) < 1e-6 ? powLabel(Math.round(e)) : '';
        },
        rich: powRich
      },
      splitLine: {show: true, lineStyle: gridLineStyle},
      minorTick: {show: false}, minorSplitLine: {show: false}
    },
    {
      type: 'value', min: 0, max: logXMax, position: 'bottom',
      axisLine: {show: false, onZero: false}, axisLabel: {show: false}, splitLine: {show: false},
      axisTick: {show: true, inside: true, length: 4, customValues: xMinorTicks, lineStyle: {color: '#000', width: 1}}
    },
    {
      type: 'log', logBase: 10, min: xMin, max: xMax, position: 'top',
      axisLine: {show: true, onZero: false, lineStyle: axisLineStyle},
      axisTick: {show: true, inside: true, length: 8, lineStyle: {color: '#000', width: 1}},
      axisLabel: {show: false}, splitLine: {show: false}
    },
    {
      type: 'value', min: 0, max: logXMax, position: 'top',
      axisLine: {show: false, onZero: false}, axisLabel: {show: false}, splitLine: {show: false},
      axisTick: {show: true, inside: true, length: 4, customValues: xMinorTicks, lineStyle: {color: '#000', width: 1}}
    }
  ],
  yAxis: [
    {
      type: 'value', min: yExponents[0], max: yExponents[yExponents.length - 1], interval: 1, position: 'left',
      name: 'PSD (strain / {r|\u221A}{i|H\u0305z\u0305} )', nameLocation: 'middle', nameGap: 80, nameRotate: 90,
      nameTextStyle: {
        fontFamily: FONT, fontSize: 32, color: '#000',
        rich: {
          r: {fontFamily: FONT, fontSize: 34, color: '#000'},
          i: {fontFamily: 'DejaVu Serif', fontStyle: 'italic', fontSize: 32, color: '#000'}
        }
      },
      axisLine: {show: true, onZero: false, lineStyle: axisLineStyle},
      axisTick: {show: true, inside: true, length: 8, lineStyle: {color: '#000', width: 1}},
      axisLabel: {
        show: true, margin: 10, color: '#000',
        formatter: function (v) { return powLabel(Math.round(v)); },
        rich: powRich
      },
      splitLine: {show: true, lineStyle: gridLineStyle}
    },
    {
      type: 'value', min: yExponents[0], max: yExponents[yExponents.length - 1], position: 'left',
      axisLine: {show: false, onZero: false}, axisLabel: {show: false}, splitLine: {show: false},
      axisTick: {show: true, inside: true, length: 4, customValues: yMinorTicks, lineStyle: {color: '#000', width: 1}}
    }
  ],
  series: series
};

const chart = echarts.init(document.getElementById('chart'), null, {renderer: 'canvas'});
chart.setOption(option);
</script>
</body>
</html>
